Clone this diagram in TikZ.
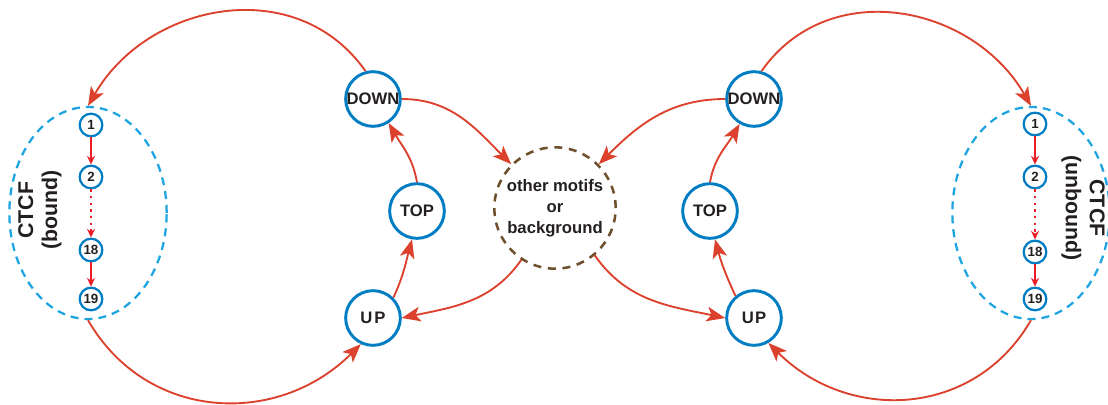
\documentclass[tikz,border=0pt]{standalone}
\usepackage{fontspec}
\setmainfont{Liberation Sans}
\usepackage{tikz}
\usetikzlibrary{arrows.meta,shapes.geometric}
\definecolor{stateblue}{RGB}{0,125,195}
\definecolor{linkred}{RGB}{220,65,45}
\definecolor{chainred}{RGB}{235,30,40}
\definecolor{ctcfcyan}{RGB}{30,165,225}
\definecolor{bgbrown}{RGB}{110,80,45}
\definecolor{txtgray}{RGB}{35,31,32}
\tikzset{
  state/.style={circle, draw=stateblue, line width=2.2pt, minimum size=41pt, inner sep=0pt,
    text=txtgray, font=\fontsize{12.5}{14}\selectfont\bfseries},
  site/.style={circle, draw=stateblue, line width=1.7pt, minimum size=17pt, inner sep=0pt,
    text=txtgray, font=\fontsize{10}{12}\selectfont\bfseries},
  ctcf/.style={ellipse, draw=ctcfcyan, dash pattern=on 6pt off 4.5pt, line width=1.7pt,
    minimum width=118pt, minimum height=159pt, inner sep=0pt},
  bgcirc/.style={circle, draw=bgbrown, dash pattern=on 6pt off 5pt, line width=1.9pt,
    minimum size=91pt, inner sep=0pt, align=center, text=txtgray,
    font=\fontsize{12.5}{15.75}\selectfont\bfseries},
  ctcftext/.style={align=center, text=txtgray, font=\fontsize{16}{18}\selectfont\bfseries},
  flow/.style={-{Stealth[length=14pt,width=11pt,inset=3.5pt]}, draw=linkred, line width=1.4pt},
  chain/.style={-{Stealth[length=6.5pt,width=6pt]}, draw=chainred, line width=1.3pt},
  dots/.style={dash pattern=on 1.6pt off 3.4pt}
}
\begin{document}
\begin{tikzpicture}[x=0.75pt,y=-0.75pt]
  \useasboundingbox (0,0) rectangle (1108,404);

  % bound CTCF sites (left)
  \node[ctcf] (ctcfL) at (88,213) {};
  \node[site] (sL1) at (91,125) {1};
  \node[site] (sL2) at (91,177) {2};
  \node[site] (sL18) at (91,250) {18};
  \node[site] (sL19) at (91,299) {19};
  \node[ctcftext,rotate=90] (labL) at (40,210) {CTCF\\(bound)};
  \draw[chain] (sL1) -- (sL2);
  \draw[chain,dots] (sL2) -- (sL18);
  \draw[chain] (sL18) -- (sL19);

  % unbound CTCF sites (right)
  \node[ctcf] (ctcfR) at (1031,213) {};
  \node[site] (sR1) at (1035,124) {1};
  \node[site] (sR2) at (1035,177) {2};
  \node[site] (sR18) at (1035,252) {18};
  \node[site] (sR19) at (1035,299) {19};
  \node[ctcftext,rotate=-90] (labR) at (1083,208) {CTCF\\(unbound)};
  \draw[chain] (sR1) -- (sR2);
  \draw[chain,dots] (sR2) -- (sR18);
  \draw[chain] (sR18) -- (sR19);

  % flanking states
  \node[state] (downL) at (373,99) {DOWN};
  \node[state] (topL) at (417,211) {TOP};
  \node[state] (upL) at (373,318) {U\kern1.5pt P};
  \node[state] (downR) at (754,99) {DOWN};
  \node[state] (topR) at (710,211) {TOP};
  \node[state] (upR) at (754,318) {U\kern1pt P};

  \node[bgcirc] (other) at (555,208) {other motifs\\or\\background};

  % transitions
  \draw[flow] (downL.105) to[out=125,in=60,looseness=1.1] (ctcfL.north);
  \draw[flow] (ctcfL.south) to[out=-60,in=-135,looseness=1.1] (upL.-115);
  \draw[flow] (upL.45) to[out=65,in=-105] (topL.-100);
  \draw[flow] (topL.north) to[out=100,in=-60] (downL.-57);
  \draw[flow] (downL.east) to[out=0,in=135] (other.135);
  \draw[flow] (other.-123) to[out=-125,in=12] (upL.east);

  \draw[flow] (downR.75) to[out=55,in=120,looseness=1.1] (ctcfR.north);
  \draw[flow] (ctcfR.south) to[out=-120,in=-45,looseness=1.1] (upR.-60);
  \draw[flow] (upR.130) to[out=115,in=-75] (topR.-80);
  \draw[flow] (topR.north) to[out=80,in=-120] (downR.-120);
  \draw[flow] (downR.west) to[out=180,in=45] (other.45);
  \draw[flow] (other.-50) to[out=-55,in=168] (upR.west);
\end{tikzpicture}
\end{document}
